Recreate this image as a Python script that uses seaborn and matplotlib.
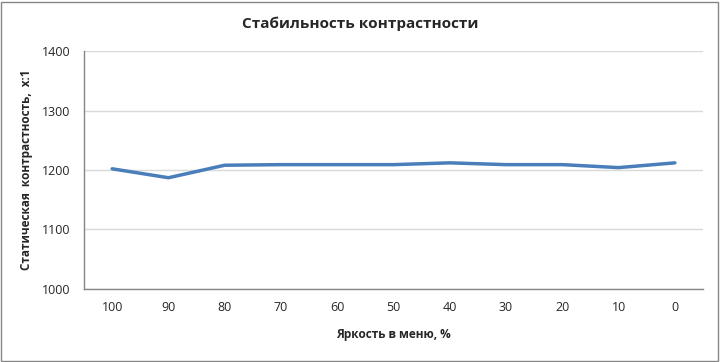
import matplotlib
matplotlib.use('Agg')
import matplotlib.pyplot as plt
import seaborn as sns
from matplotlib.patches import Rectangle

# Data
brightness = ['100', '90', '80', '70', '60', '50', '40', '30', '20', '10', '0']
contrast = [1202, 1187, 1208, 1209, 1209, 1209, 1212, 1209, 1209, 1204, 1212]
y_ticks = [1000, 1100, 1200, 1300, 1400]

sns.set_style('white')
plt.rcParams['font.family'] = ['Open Sans', 'DejaVu Sans']

fig = plt.figure(figsize=(7.2, 3.62), dpi=100)
ax = fig.add_axes([0.1167, 0.2017, 0.8597, 0.6574])

sns.lineplot(x=brightness, y=contrast, sort=False, color='#4a7ebb',
             linewidth=2.5, ax=ax)

ax.set_ylim(1000, 1400)
ax.set_yticks(y_ticks)
ax.set_xlim(-0.5, len(brightness) - 0.5)
ax.yaxis.grid(True, color='#d9d9d9', linewidth=1)
ax.set_axisbelow(True)
for side in ['top', 'right']:
    ax.spines[side].set_visible(False)
for side in ['left', 'bottom']:
    ax.spines[side].set_color('#868686')
    ax.spines[side].set_linewidth(1)

ax.tick_params(axis='both', labelsize=9, length=4, color='#868686', pad=6)
ax.tick_params(axis='x', length=0, pad=9)
fig.text(0.5, 0.935, 'Стабильность контрастности', fontsize=11, fontweight='bold',
         ha='center', va='center')
ax.set_xlabel('Яркость в меню, %', fontsize=8.5, fontweight='bold', labelpad=10)
ax.set_ylabel('Статическая  контрастность,  x:1', fontsize=8.5, fontweight='bold', labelpad=6)

# outer chart border
fig.patches.append(Rectangle((0.002, 0.003), 0.995, 0.992, transform=fig.transFigure,
                             fill=False, edgecolor='#868686', linewidth=1))

fig.savefig('out.png', dpi=100)
